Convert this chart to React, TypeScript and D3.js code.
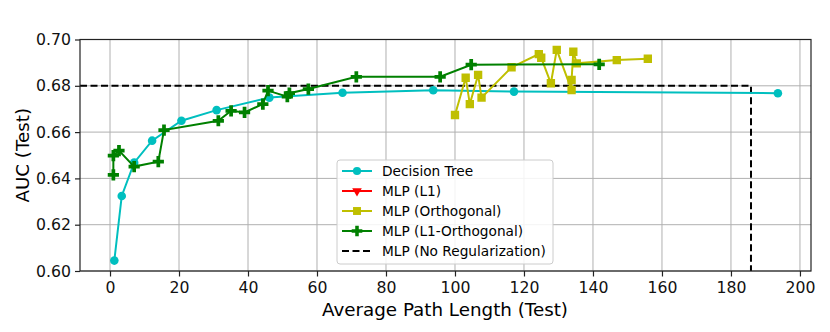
import React, { useEffect, useRef } from 'react';
import * as d3 from 'd3';

// Decision Tree (cyan circles)
const treeX = [1.25, 3.4, 7.0, 12.2, 20.7, 30.9, 46.2, 67.4, 93.7, 117.1, 193.6];
const treeY = [0.6045, 0.6324, 0.6468, 0.6563, 0.6649, 0.6695, 0.6749, 0.6770, 0.6781, 0.6775, 0.6768];

// MLP (L1) - nothing visible in the plot, only in the legend
const l1X: number[] = [];
const l1Y: number[] = [];

// MLP (Orthogonal) - yellow squares
const orthoX = [100.0, 103.1, 104.3, 106.7, 107.7, 116.4, 124.3, 125.0, 127.8, 129.5, 133.8, 133.8, 134.3, 135.3, 146.9, 155.9];
const orthoY = [0.6674, 0.6835, 0.6721, 0.6847, 0.6749, 0.6880, 0.6937, 0.6921, 0.6811, 0.6955, 0.6782, 0.6825, 0.6947, 0.6897, 0.6911, 0.6917];

// MLP (L1-Orthogonal) - green plus
const l1OrthoX = [0.97, 0.97, 2.6, 7.0, 14.0, 15.65, 31.4, 35.1, 39.0, 44.3, 45.8, 51.4, 52.0, 57.5, 71.4, 95.7, 104.7, 141.8];
const l1OrthoY = [0.6415, 0.6498, 0.6520, 0.6451, 0.6472, 0.6609, 0.6649, 0.6692, 0.6685, 0.6721, 0.6779, 0.6753, 0.6768, 0.6786, 0.6839, 0.6839, 0.6891, 0.6893];

// MLP (No Regularization) - dashed reference
const noRegX = [-8.7, 185.8, 185.8];
const noRegY = [0.68, 0.68, 0.60];

const xTicks = [0, 20, 40, 60, 80, 100, 120, 140, 160, 180, 200];
const yTicks = [0.60, 0.62, 0.64, 0.66, 0.68, 0.70];

const legendLabels = ['Decision Tree', 'MLP (L1)', 'MLP (Orthogonal)', 'MLP (L1-Orthogonal)', 'MLP (No Regularization)'];

const W = 830, H = 332;
const left = 80, right = 811, top = 39.5, bottom = 271;
const font = "'DejaVu Sans', sans-serif";
const dash = '7,3.5';

const App = () => {
  const ref = useRef<SVGSVGElement>(null);

  useEffect(() => {
    const svg = d3.select(ref.current);
    svg.selectAll('*').remove();

    const x = d3.scaleLinear().domain([-8.7, 203.2]).range([left, right]);
    const y = d3.scaleLinear().domain([0.60, 0.70]).range([bottom, top]);

    svg.append('rect').attr('width', W).attr('height', H).attr('fill', 'white');

    // grid
    const grid = svg.append('g').attr('stroke', '#b0b0b0').attr('stroke-width', 1);
    grid.selectAll('.gx').data(xTicks).join('line')
      .attr('x1', d => x(d)).attr('x2', d => x(d)).attr('y1', top).attr('y2', bottom);
    grid.selectAll('.gy').data(yTicks).join('line')
      .attr('y1', d => y(d)).attr('y2', d => y(d)).attr('x1', left).attr('x2', right);

    svg.append('defs').append('clipPath').attr('id', 'clip')
      .append('rect').attr('x', left).attr('y', top).attr('width', right - left).attr('height', bottom - top);

    const plot = svg.append('g').attr('clip-path', 'url(#clip)');
    const line = d3.line<[number, number]>().x(d => x(d[0])).y(d => y(d[1]));
    const zip = (a: number[], b: number[]) => a.map((v, i) => [v, b[i]] as [number, number]);

    // dashed no-regularization line
    plot.append('path').attr('d', line(zip(noRegX, noRegY)))
      .attr('fill', 'none').attr('stroke', 'black').attr('stroke-width', 2).attr('stroke-dasharray', dash);

    const series = [
      { xs: treeX, ys: treeY, color: '#00bfbf', sym: d3.symbolCircle, size: 58 },
      { xs: l1X, ys: l1Y, color: '#ff0000', sym: d3.symbolTriangle, size: 45 },
      { xs: orthoX, ys: orthoY, color: '#bfbf00', sym: d3.symbolSquare, size: 70 },
      { xs: l1OrthoX, ys: l1OrthoY, color: '#008000', sym: d3.symbolCross, size: 70 },
    ];

    series.forEach(s => {
      const pts = zip(s.xs, s.ys);
      if (!pts.length) return;
      plot.append('path').attr('d', line(pts))
        .attr('fill', 'none').attr('stroke', s.color).attr('stroke-width', 2);
      plot.append('g').selectAll('path').data(pts).join('path')
        .attr('d', d3.symbol().type(s.sym).size(s.size)())
        .attr('transform', d => `translate(${x(d[0])},${y(d[1])})`)
        .attr('fill', s.color);
    });

    // frame
    svg.append('rect').attr('x', left).attr('y', top).attr('width', right - left).attr('height', bottom - top)
      .attr('fill', 'none').attr('stroke', '#222').attr('stroke-width', 1.2);

    // axes
    const xAxis = svg.append('g').attr('transform', `translate(0,${bottom})`)
      .call(d3.axisBottom(x).tickValues(xTicks).tickSize(5.5).tickPadding(5).tickFormat(d3.format('d')));
    const yAxis = svg.append('g').attr('transform', `translate(${left},0)`)
      .call(d3.axisLeft(y).tickValues(yTicks).tickSize(5).tickPadding(4).tickFormat(d3.format('.2f')));
    [xAxis, yAxis].forEach(a => {
      a.select('.domain').remove();
      a.selectAll('text').attr('font-family', font).attr('font-size', 15.7).attr('fill', '#111');
      a.selectAll('line').attr('stroke', '#222').attr('stroke-width', 1.2);
    });

    svg.append('text').attr('x', 445).attr('y', 315.5).attr('text-anchor', 'middle')
      .attr('font-family', font).attr('font-size', 18.3).text('Average Path Length (Test)');
    svg.append('text').attr('transform', `translate(29,${(top + bottom) / 2}) rotate(-90)`)
      .attr('text-anchor', 'middle').attr('font-family', font).attr('font-size', 18.3).text('AUC (Test)');

    // legend
    const lg = svg.append('g').attr('transform', 'translate(337,160)');
    lg.append('rect').attr('width', 216).attr('height', 104).attr('rx', 3)
      .attr('fill', 'white').attr('fill-opacity', 0.85).attr('stroke', '#ccc');
    const items = [...series.map(s => ({ color: s.color, sym: s.sym as d3.SymbolType | null, size: s.size * 0.9, dash: null as string | null })),
      { color: 'black', sym: null, size: 0, dash }];
    items.forEach((it, i) => {
      const cy = 11 + i * 20;
      lg.append('line').attr('x1', 5).attr('x2', 35).attr('y1', cy).attr('y2', cy)
        .attr('stroke', it.color).attr('stroke-width', 2).attr('stroke-dasharray', it.dash);
      if (it.sym) {
        lg.append('path').attr('d', d3.symbol().type(it.sym).size(it.size)())
          .attr('transform', `translate(20,${cy})${i === 1 ? ' rotate(180)' : ''}`).attr('fill', it.color);
      }
      lg.append('text').attr('x', 45).attr('y', cy).attr('dy', '0.35em')
        .attr('font-family', font).attr('font-size', 13.7).text(legendLabels[i]);
    });
  }, []);

  return (
    <svg ref={ref} width={W} height={H} style={{ position: 'absolute', left: 0, top: 0 }} />
  );
};

export default App;
